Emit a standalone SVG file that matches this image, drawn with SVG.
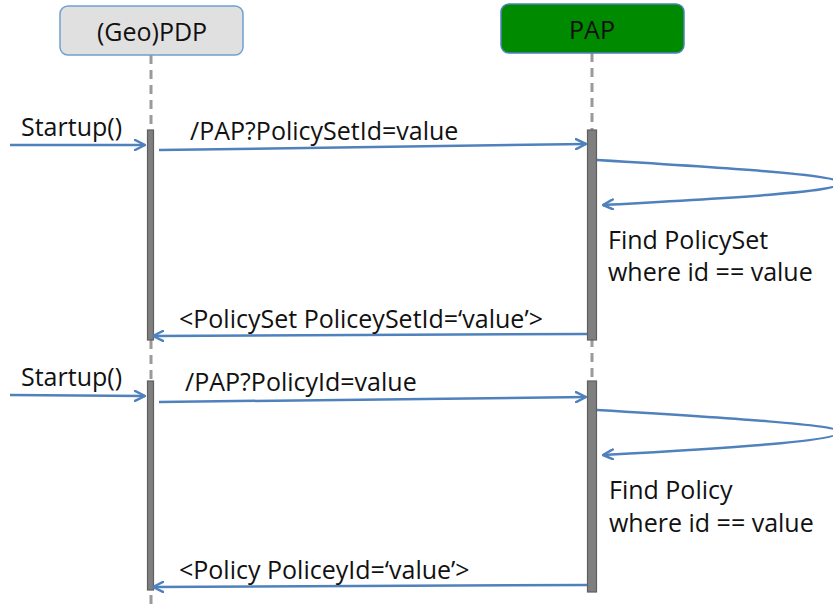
<svg xmlns="http://www.w3.org/2000/svg" width="833" height="606" viewBox="0 0 833 606">
  <style>
    .lbl { font-family: "Open Sans", "Liberation Sans", sans-serif; font-size: 25px; fill: #111; }
    .msg { fill: none; stroke: #4f81bd; stroke-width: 2.5; }
    .life { stroke: #9a9a9a; stroke-width: 3; stroke-dasharray: 9 6; }
    .bar { fill: #7f7f7f; stroke: #5f5f5f; stroke-width: 1.2; }
  </style>
  <defs>
    <marker id="open" viewBox="0 0 12 12" refX="11" refY="6" markerWidth="12" markerHeight="12" markerUnits="userSpaceOnUse" orient="auto">
      <path d="M1,1 L11,6 L1,11" fill="none" stroke="#4f81bd" stroke-width="2.5" stroke-linejoin="round" stroke-linecap="round"/>
    </marker>
  </defs>
  <rect width="833" height="606" fill="#fff"/>

  <!-- lifelines -->
  <g id="lifelines">
    <line class="life" x1="151" y1="55" x2="151" y2="606"/>
    <line class="life" x1="592" y1="53" x2="592" y2="592"/>
  </g>

  <g id="pdp">
    <rect x="60" y="6" width="183" height="49" rx="8" fill="#e0e0e0" stroke="#6f9fd3" stroke-width="1.5"/>
    <text class="lbl" x="152" y="41" text-anchor="middle">(Geo)PDP</text>
    <rect class="bar" x="147.5" y="130" width="6" height="210"/>
    <rect class="bar" x="147.5" y="381" width="6" height="209"/>
  </g>

  <g id="pap">
    <rect x="501" y="4" width="183" height="49" rx="8" fill="#008a00" stroke="#4f81bd" stroke-width="1.5"/>
    <text class="lbl" x="592" y="39" text-anchor="middle">PAP</text>
    <rect class="bar" x="587.5" y="130" width="9" height="210"/>
    <rect class="bar" x="587.5" y="381" width="9" height="211"/>
  </g>

  <g id="connectors">
    <line class="msg" x1="10" y1="145" x2="145" y2="145" marker-end="url(#open)"/>
    <line class="msg" x1="159" y1="150" x2="586" y2="144" marker-end="url(#open)"/>
    <path class="msg" d="M597,160 C730,168 840,175 840,183 C840,192 730,198 603,205" marker-end="url(#open)"/>
    <line class="msg" x1="587" y1="334" x2="153" y2="336" marker-end="url(#open)"/>

    <line class="msg" x1="10" y1="395" x2="145" y2="396" marker-end="url(#open)"/>
    <line class="msg" x1="159" y1="402" x2="586" y2="397" marker-end="url(#open)"/>
    <path class="msg" d="M597,410 C730,418 840,425 840,432 C840,441 730,448 603,455" marker-end="url(#open)"/>
    <line class="msg" x1="587" y1="585" x2="153" y2="587" marker-end="url(#open)"/>
  </g>

  <g id="labels">
    <text class="lbl" x="21" y="136">Startup()</text>
    <text class="lbl" x="190" y="140">/PAP?PolicySetId=value</text>
    <text class="lbl" x="608" y="249">Find PolicySet</text>
    <text class="lbl" x="608" y="281">where id == value</text>
    <text class="lbl" x="179" y="328">&lt;PolicySet PoliceySetId=‘value’&gt;</text>

    <text class="lbl" x="21" y="386">Startup()</text>
    <text class="lbl" x="185" y="391">/PAP?PolicyId=value</text>
    <text class="lbl" x="609" y="499">Find Policy</text>
    <text class="lbl" x="609" y="532">where id == value</text>
    <text class="lbl" x="179" y="579">&lt;Policy PoliceyId=‘value’&gt;</text>
  </g>
</svg>
